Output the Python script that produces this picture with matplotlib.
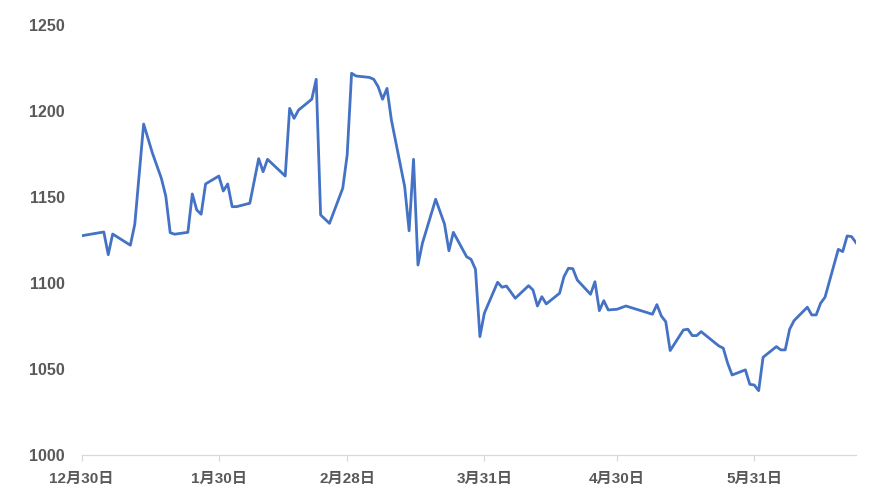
import matplotlib
matplotlib.use("Agg")
import matplotlib.pyplot as plt
import pandas as pd

# 日期与数值
dates = [
    "2022-12-30", "2023-01-04", "2023-01-05", "2023-01-06", "2023-01-10", "2023-01-11",
    "2023-01-13", "2023-01-15", "2023-01-17", "2023-01-18", "2023-01-19", "2023-01-20",
    "2023-01-23", "2023-01-24", "2023-01-25", "2023-01-26", "2023-01-27", "2023-01-30",
    "2023-01-31", "2023-02-01", "2023-02-02", "2023-02-03", "2023-02-06", "2023-02-08",
    "2023-02-09", "2023-02-10", "2023-02-14", "2023-02-15", "2023-02-16", "2023-02-17",
    "2023-02-20", "2023-02-21", "2023-02-22", "2023-02-24", "2023-02-27", "2023-02-28",
    "2023-03-01", "2023-03-02", "2023-03-05", "2023-03-06", "2023-03-07", "2023-03-08",
    "2023-03-09", "2023-03-10", "2023-03-13", "2023-03-14", "2023-03-15", "2023-03-16",
    "2023-03-17", "2023-03-20", "2023-03-22", "2023-03-23", "2023-03-24", "2023-03-27",
    "2023-03-28", "2023-03-29", "2023-03-30", "2023-03-31", "2023-04-03", "2023-04-04",
    "2023-04-05", "2023-04-07", "2023-04-10", "2023-04-11", "2023-04-12", "2023-04-13",
    "2023-04-14", "2023-04-17", "2023-04-18", "2023-04-19", "2023-04-20", "2023-04-21",
    "2023-04-24", "2023-04-25", "2023-04-26", "2023-04-27", "2023-04-28", "2023-04-30",
    "2023-05-02", "2023-05-08", "2023-05-09", "2023-05-10", "2023-05-11", "2023-05-12",
    "2023-05-15", "2023-05-16", "2023-05-17", "2023-05-18", "2023-05-19", "2023-05-23",
    "2023-05-24", "2023-05-25", "2023-05-26", "2023-05-29", "2023-05-30", "2023-05-31",
    "2023-06-01", "2023-06-02", "2023-06-05", "2023-06-06", "2023-06-07", "2023-06-08",
    "2023-06-09", "2023-06-12", "2023-06-13", "2023-06-14", "2023-06-15", "2023-06-16",
    "2023-06-19", "2023-06-20", "2023-06-21", "2023-06-22", "2023-06-23",
]
values = [
    1127.6, 1129.8, 1116.6, 1128.6, 1122.1, 1134.3,
    1192.5, 1175.5, 1161.0, 1150.7, 1129.4, 1128.5,
    1129.6, 1151.9, 1142.6, 1140.1, 1157.7, 1162.3,
    1153.6, 1157.7, 1144.5, 1144.5, 1146.5, 1172.4,
    1164.8, 1172.0, 1162.3, 1201.6, 1195.8, 1200.6,
    1206.9, 1218.5, 1139.7, 1134.8, 1155.2, 1174.5,
    1222.0, 1220.4, 1219.6, 1218.5, 1214.2, 1206.9,
    1213.2, 1194.8, 1156.1, 1130.5, 1172.0, 1110.6,
    1123.2, 1148.8, 1134.4, 1118.9, 1129.6, 1115.4,
    1113.9, 1108.1, 1069.0, 1082.6, 1100.6, 1097.7,
    1098.4, 1091.3, 1098.6, 1096.1, 1086.8, 1092.2,
    1088.0, 1094.2, 1103.8, 1108.7, 1108.5, 1101.9,
    1093.6, 1100.9, 1084.1, 1089.9, 1084.5, 1084.9,
    1086.8, 1082.0, 1087.6, 1081.0, 1077.7, 1060.9,
    1072.9, 1073.3, 1069.6, 1069.6, 1071.9, 1063.6,
    1062.3, 1053.5, 1046.7, 1049.7, 1041.3, 1040.9,
    1037.6, 1057.0, 1063.2, 1061.3, 1061.3, 1073.3,
    1078.3, 1086.1, 1081.6, 1081.6, 1088.4, 1091.9,
    1119.7, 1118.4, 1127.5, 1127.1, 1123.6,
]

tick_dates = ["2022-12-30", "2023-01-30", "2023-02-28", "2023-03-31", "2023-04-30", "2023-05-31"]
tick_labels = ["12月30日", "1月30日", "2月28日", "3月31日", "4月30日", "5月31日"]
y_ticks = [1000, 1050, 1100, 1150, 1200, 1250]

x = pd.to_datetime(dates)

fig = plt.figure(figsize=(8.7, 5.01), dpi=100)
ax = fig.add_axes([0.0939, 0.091, 0.890, 0.859])

ax.plot(x, values, color="#4472C4", linewidth=2.0, solid_joinstyle="round")

ax.set_xlim(x[0], x[-1])
ax.set_ylim(1000, 1250)
ax.set_yticks(y_ticks)
ax.set_xticks(pd.to_datetime(tick_dates))

font_list = ["Liberation Sans", "Noto Sans CJK SC"]
ax.set_xticklabels(tick_labels, family=font_list, fontsize=11, fontweight="bold", color="#595959")
ax.set_yticklabels([str(v) for v in y_ticks], family=font_list, fontsize=11.5, fontweight="bold", color="#595959")

for s in ["top", "right", "left"]:
    ax.spines[s].set_visible(False)
ax.spines["bottom"].set_color("#D9D9D9")
ax.spines["bottom"].set_linewidth(0.9)

ax.tick_params(axis="y", length=0, pad=12)
ax.tick_params(axis="x", length=4, width=0.9, color="#D9D9D9", pad=8)

fig.savefig("out.png", dpi=100)
